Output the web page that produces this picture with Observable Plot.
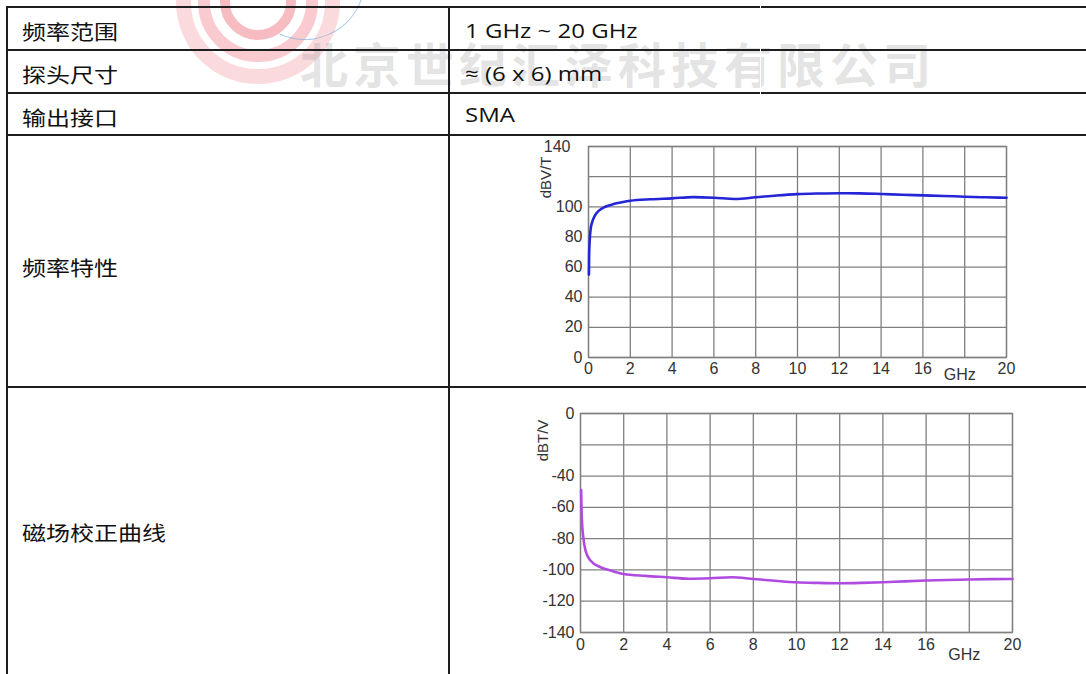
<!DOCTYPE html>
<html>
<head>
<meta charset="utf-8">
<script src="https://cdn.jsdelivr.net/npm/d3@7"></script>
<script src="https://cdn.jsdelivr.net/npm/@observablehq/plot@0.6"></script>
<style>
html,body{margin:0;padding:0;background:#fff;}
#page{position:relative;width:1086px;height:674px;overflow:hidden;background:#fff;font-family:"Open Sans","Noto Sans CJK SC",sans-serif;}
.hl{position:absolute;height:2px;background:#1e1e1e;}
.vl{position:absolute;width:2px;background:#1e1e1e;}
.cell{position:absolute;font-size:20px;line-height:22px;color:#111;transform:scaleX(1.2);transform-origin:left center;white-space:nowrap;}
.cjk{font-family:"Noto Sans CJK SC",sans-serif;}
.ring{position:absolute;border-radius:50%;border-style:solid;box-sizing:border-box;}
.wm{position:absolute;font-family:"Noto Sans CJK SC",sans-serif;font-weight:700;font-size:48px;line-height:46px;letter-spacing:5px;color:rgba(150,150,150,0.27);white-space:nowrap;}
.chart{position:absolute;}
.chart svg{overflow:visible;}
</style>
</head>
<body>
<div id="page"></div>
<script>
// ---------- data ----------
const rowLabels = ["频率范围", "探头尺寸", "输出接口", "频率特性", "磁场校正曲线"];
const rowValues = ["1 GHz ~ 20 GHz", "≈ (6 x 6) mm", "SMA"];
const watermarkText = "北京世纪汇泽科技有限公司";

const freqA = [0.02, 0.03, 0.06, 0.1, 0.18, 0.3, 0.5, 0.8, 1.2, 1.6, 2, 3, 4, 5, 6, 7, 8, 9, 10, 11, 12, 13, 14, 15, 16, 17, 18, 19, 20];
const respA = [55, 68, 78, 85, 90, 94, 97.5, 100, 101.8, 103, 104, 105, 105.6, 106.4, 106, 105.2, 106.3, 107.5, 108.4, 108.8, 109, 108.9, 108.5, 108, 107.6, 107.2, 106.7, 106.3, 106];

const freqB = [0.03, 0.05, 0.08, 0.12, 0.23, 0.46, 0.93, 1.4, 2, 3, 4, 5, 6, 7, 8, 9, 10, 11, 12, 13, 14, 15, 16, 17, 18, 19, 20];
const corrB = [-49, -62, -72, -78, -87.5, -94, -98.3, -100.4, -102.6, -103.8, -104.7, -105.6, -105.3, -104.7, -105.8, -106.9, -107.9, -108.3, -108.5, -108.3, -107.9, -107.3, -106.8, -106.4, -106.1, -105.9, -105.8];

const xGrid = [0, 2, 4, 6, 8, 10, 12, 14, 16, 18, 20];
const xTickLabels = [0, 2, 4, 6, 8, 10, 12, 14, 16, 20];
const xUnitTick = [18];
const xUnit = "GHz";

const yGridA = [0, 20, 40, 60, 80, 100, 120, 140];
const yTickLabelsA = [0, 20, 40, 60, 80, 100];
const yTopLabelA = [140];
const yUnitA = "dBV/T";

const yGridB = [0, -20, -40, -60, -80, -100, -120, -140];
const yTickLabelsB = [0, -40, -60, -80, -100, -120, -140];
const yUnitB = "dBT/V";

// ---------- layout ----------
const page = document.getElementById("page");
function el(cls, css, text) {
  const d = document.createElement("div");
  d.className = cls;
  Object.assign(d.style, css);
  if (text != null) d.textContent = text;
  page.appendChild(d);
  return d;
}

// watermark logo & text
[[82, 15, "rgba(244,140,150,0.32)"], [60, 12, "rgba(236,90,105,0.32)"], [38, 10, "rgba(232,70,85,0.36)"]].forEach(([r, b, c]) => {
  el("ring", {left: (258 - r) + "px", top: (2 - r) + "px", width: 2 * r + "px", height: 2 * r + "px", borderWidth: b + "px", borderColor: c});
});
el("ring", {left: (305 - 60) + "px", top: (-20 - 60) + "px", width: "120px", height: "120px", borderWidth: "1.5px",
  borderColor: "transparent rgba(120,170,220,0.6) rgba(120,170,220,0.6) transparent", transform: "rotate(-20deg)"});
el("wm", {left: "300px", top: (62 - 23) + "px"}, watermarkText);

// table lines
const hLines = [7, 50, 93, 135, 387];
hLines.forEach(y => el("hl", {left: "7px", top: (y - 1) + "px", width: (1086 - 7) + "px"}));
[7, 449].forEach(x => el("vl", {left: (x - 1) + "px", top: "6px", height: (674 - 6) + "px"}));
el("vl", {left: "759.5px", top: "0px", height: "96px", background: "#fff", width: "1.6px"});

// table text
const labelCenters = [32, 75, 117.5, 268, 533];
rowLabels.forEach((t, i) => el("cell cjk", {left: "22px", top: (labelCenters[i] - 11) + "px"}, t));
const valueCenters = [30.5, 73.5, 114.5];
rowValues.forEach((t, i) => el("cell", {left: "465px", top: (valueCenters[i] - 11) + "px"}, t));

// ---------- charts ----------
const FS = 16;
const gridStyle = {stroke: "#808080", strokeOpacity: 1, strokeWidth: 1.3};
function makeChart({freq, vals, yDomain, yGrid, yTicks, color, unit, unitDx, unitDy, tickPad, unitPad, extra, width, height, marginLeft}) {
  const data = freq.map((f, i) => ({f, v: vals[i]}));
  return Plot.plot({
    width, height,
    marginLeft, marginRight: 20, marginTop: 16, marginBottom: 30,
    x: {domain: [0, 20]},
    y: {domain: yDomain},
    style: {fontFamily: "'Liberation Sans', Arial, sans-serif", fontSize: FS + "px", color: "#333", background: "transparent"},
    marks: [
      Plot.gridX(xGrid, gridStyle),
      Plot.gridY(yGrid, gridStyle),
      Plot.frame({stroke: "#808080", strokeWidth: 1.3}),
      Plot.axisX(xTickLabels, {tickSize: 0, tickPadding: tickPad, tickFormat: d => String(d), label: null, fontSize: FS}),
      Plot.text(xUnitTick, {x: d => d, frameAnchor: "bottom", lineAnchor: "top", dy: unitPad, dx: -5, text: () => xUnit, fontSize: FS, fill: "#333"}),
      Plot.axisY(yTicks, {tickSize: 0, tickPadding: 6, tickFormat: d => String(d), label: null, fontSize: FS}),
      ...extra,
      Plot.text([unit], {frameAnchor: "top-left", textAnchor: "middle", lineAnchor: "middle", dx: unitDx, dy: unitDy, rotate: -90, fontSize: 15, fill: "#333"}),
      Plot.line(data, {x: "f", y: "v", stroke: color, strokeWidth: 2.6, curve: "monotone-x"})
    ]
  });
}

const c1 = el("chart", {left: "520px", top: "130px", width: "506px", height: "257px"});
c1.appendChild(makeChart({
  freq: freqA, vals: respA, yDomain: [0, 140], yGrid: yGridA, yTicks: yTickLabelsA,
  color: "#2525d8", unit: yUnitA, unitDx: -42, unitDy: 31, tickPad: 5, unitPad: 11,
  width: 506, height: 257, marginLeft: 68,
  extra: [Plot.text(yTopLabelA, {y: d => d, frameAnchor: "left", dx: -18, textAnchor: "end", text: d => String(d), fontSize: FS, fill: "#333"})]
}));

const c2 = el("chart", {left: "500px", top: "397px", width: "532px", height: "265px"});
c2.appendChild(makeChart({
  freq: freqB, vals: corrB, yDomain: [-140, 0], yGrid: yGridB, yTicks: yTickLabelsB,
  color: "#b04be0", unit: yUnitB, unitDx: -37, unitDy: 27, tickPad: 6, unitPad: 16,
  width: 532, height: 265, marginLeft: 80,
  extra: []
}));
</script>
</body>
</html>
